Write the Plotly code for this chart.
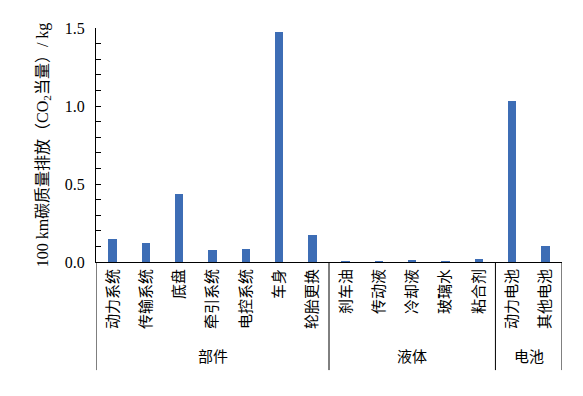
import plotly.graph_objects as go

groups = ["部件", "液体", "电池"]
group_sizes = [7, 5, 2]
categories = ["动力系统", "传输系统", "底盘", "牵引系统", "电控系统", "车身", "轮胎更换",
              "刹车油", "传动液", "冷却液", "玻璃水", "粘合剂",
              "动力电池", "其他电池"]
values = [0.145, 0.12, 0.434, 0.077, 0.085, 1.474, 0.175,
          0.006, 0.005, 0.01, 0.006, 0.02,
          1.034, 0.103]

FONT = "Liberation Serif, Times New Roman, Noto Sans CJK SC"
xs = list(range(len(categories)))

fig = go.Figure()
fig.add_trace(go.Bar(x=xs, y=values, width=0.25, marker=dict(color="#3D6DB5", line=dict(width=0))))

# group separators and labels
bounds = [-0.5]
for s in group_sizes:
    bounds.append(bounds[-1] + s)
for b in bounds:
    fig.add_shape(type="line", xref="x", yref="paper", x0=b, x1=b, y0=0, y1=-0.462,
                  line=dict(color="black", width=1))
for i, g in enumerate(groups):
    fig.add_annotation(x=(bounds[i] + bounds[i + 1]) / 2, y=-0.406, xref="x", yref="paper",
                       yanchor="middle", xanchor="center",
                       text=g, showarrow=False, font=dict(size=15, family=FONT, color="black"))

fig.update_layout(
    width=575, height=388,
    margin=dict(l=88, r=21, t=20, b=134),
    paper_bgcolor="white", plot_bgcolor="white",
    showlegend=False,
    font=dict(family=FONT, size=15, color="black"),
    bargap=0,
)
fig.update_xaxes(
    range=[-0.5, len(categories) - 0.5], automargin=False,
    tickmode="array", tickvals=xs, ticktext=categories, tickangle=-90,
    showline=True, linecolor="black", linewidth=1, ticks="", showgrid=False, zeroline=False,
    tickfont=dict(size=15, family=FONT),
)
fig.update_yaxes(
    range=[0, 1.5], dtick=0.5, tickformat=".1f", automargin=False,
    showline=True, linecolor="black", linewidth=1,
    ticks="inside", ticklen=5, tickcolor="black",
    minor=dict(ticks="inside", dtick=0.1, ticklen=5, tickcolor="black"),
    showgrid=False, zeroline=False, ticklabelstandoff=7,
    tickfont=dict(size=16, family=FONT),
    title=dict(text="100 km碳质量排放（CO<sub>2</sub>当量）/ kg", font=dict(size=16, family=FONT), standoff=12),
)

fig.write_html("out.html")
